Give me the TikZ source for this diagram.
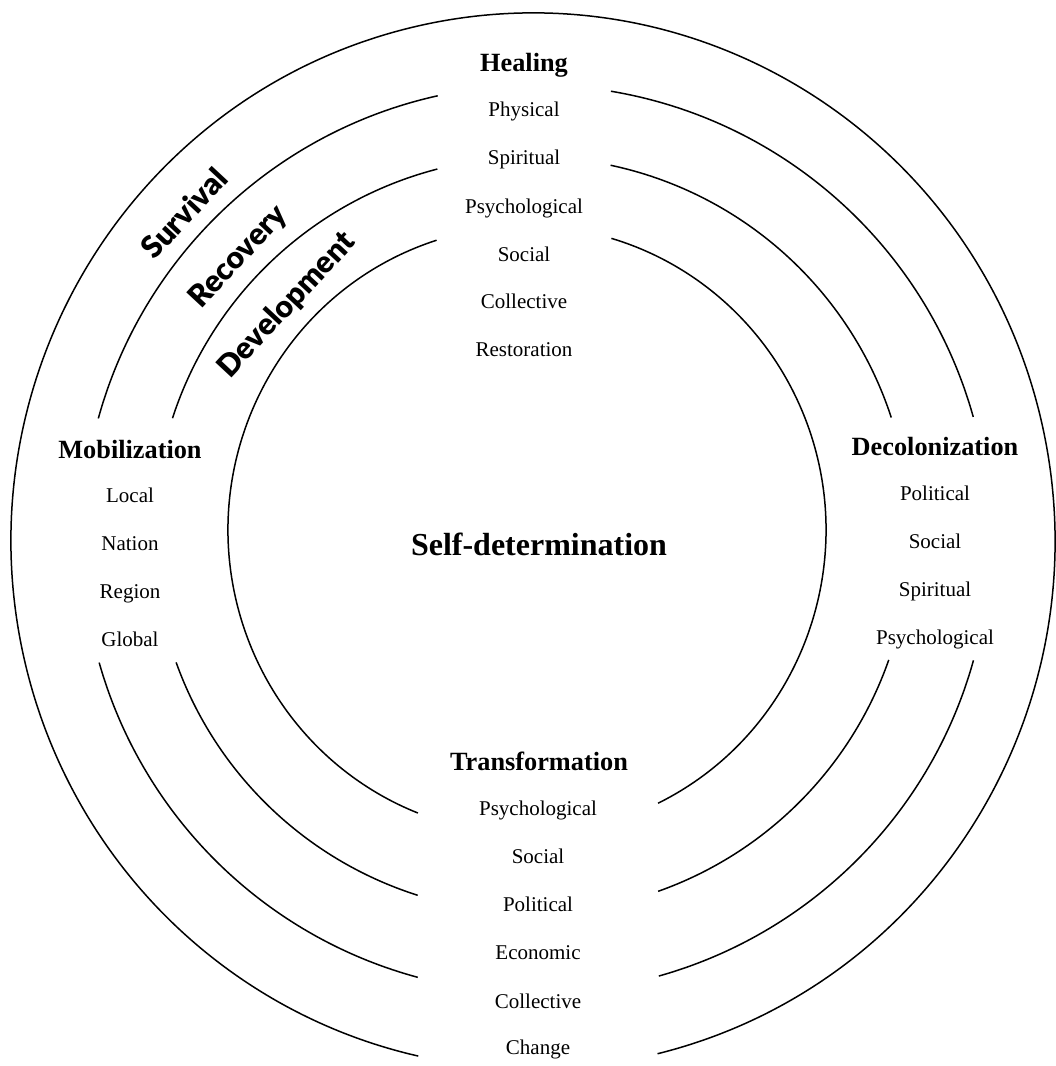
\documentclass[tikz,border=0pt]{standalone}
\usepackage{fontspec}
\setmainfont{Liberation Serif}
\newfontfamily\heavy{Lato}[UprightFont={* Black}]
\begin{document}
\begin{tikzpicture}[x=1pt,y=1pt,
  ring/.style={line width=1.5pt, black},
  hd/.style={font=\fontsize{26.3}{30}\selectfont\bfseries, anchor=base, inner sep=0pt},
  itm/.style={font=\fontsize{21}{25}\selectfont, anchor=base, inner sep=0pt},
  phase/.style={font=\heavy\fontsize{30.5}{34}\selectfont, rotate=47, inner sep=0pt}]
\useasboundingbox (0,0) rectangle (1056,1066);

% ring 1 (outer)
\draw[ring] (533,525) ++(-76.2:522 and 528) arc[start angle=-76.2, end angle=257.3, x radius=522, y radius=528];

% ring 2
\foreach \a/\b in {15.6/80.5, 102.5/164.6, 195.8/254.9, 285.7/344.5}
  \draw[ring] (536,527) ++(\a:454) arc[start angle=\a, end angle=\b, radius=454];

% ring 3
\foreach \a/\b in {18.1/78.0, 104.5/162.0, 199.7/252.4, 289.5/340.7}
  \draw[ring] (532,531) ++(\a:378) arc[start angle=\a, end angle=\b, radius=378];

% ring 4 (inner)
\foreach \a/\b in {-64/73.6, 107.6/248.6}
  \draw[ring] (527,536) ++(\a:299 and 304) arc[start angle=\a, end angle=\b, x radius=299, y radius=304];

% Healing
\node[hd]  (heal) at (524,994) {Healing};
\node[itm] (h1) at (524,949) {Physical};
\node[itm] (h2) at (524,901) {Spiritual};
\node[itm] (h3) at (524,852) {Psychological};
\node[itm] (h4) at (524,804) {Social};
\node[itm] (h5) at (524,757) {Collective};
\node[itm] (h6) at (524,709) {Restoration};

% Mobilization
\node[hd]  (mob) at (130,607) {Mobilization};
\node[itm] (m1) at (130,563) {Local};
\node[itm] (m2) at (130,515) {Nation};
\node[itm] (m3) at (130,467) {Region};
\node[itm] (m4) at (130,419) {Global};

% Decolonization
\node[hd]  (dec) at (935,610) {Decolonization};
\node[itm] (d1) at (935,565) {Political};
\node[itm] (d2) at (935,517) {Social};
\node[itm] (d3) at (935,469) {Spiritual};
\node[itm] (d4) at (935,421) {Psychological};

% Transformation
\node[hd]  (tra) at (539,295) {Transformation};
\node[itm] (t1) at (538,250) {Psychological};
\node[itm] (t2) at (538,202) {Social};
\node[itm] (t3) at (538,154) {Political};
\node[itm] (t4) at (538,106) {Economic};
\node[itm] (t5) at (538,57) {Collective};
\node[itm] (t6) at (538,11) {Change};

% centre
\node[font=\fontsize{32}{36}\selectfont\bfseries, anchor=base, inner sep=0pt] (self) at (539,510) {Self-determination};

% phases
\node[phase] (surv) at (184,853) {Survival};
\node[phase] (reco) at (239,809) {Recovery};
\node[phase] (deve) at (287,761) {Development};
\end{tikzpicture}
\end{document}
